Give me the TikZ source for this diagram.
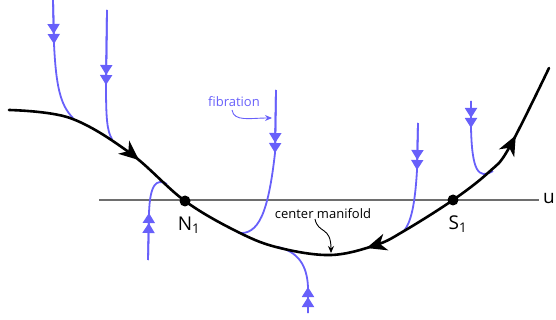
\documentclass[tikz,border=0pt]{standalone}
\usepackage{fontspec}
\setmainfont{Open Sans}
\usetikzlibrary{arrows.meta,decorations.markings}
\definecolor{fibblue}{RGB}{104,96,250}
\definecolor{axisgray}{RGB}{110,110,110}
\tikzset{
  manifold/.style={line width=2.6pt,black,line cap=round},
  fiber/.style={line width=1.8pt,fibblue},
  fibtip/.style={-{Triangle[width=12pt,length=10pt]Triangle[width=12pt,length=10pt]}},
  fixpt/.style={circle,fill=black,inner sep=0pt,minimum size=11pt},
  ptlabel/.style={font=\fontsize{19}{20}\selectfont,inner sep=0pt},
  note/.style={font=\fontsize{13}{14}\selectfont,inner sep=0pt},
  flowtip/.tip={Stealth[length=20pt,width=17pt,inset=6pt]}
}
\begin{document}
\begin{tikzpicture}[x=1pt,y=-1pt]
\useasboundingbox (0,0) rectangle (556,320);
% u axis
\coordinate (axl) at (99,200);
\coordinate (axr) at (539,200);
\draw[axisgray,line width=1.8pt] (axl) -- (axr);
\node[ptlabel,anchor=west] (ulab) at (543,199) {u};
% fibers (drawn below the manifold)
\draw[fiber] (53,0) -- (54,44) .. controls (56,85) and (60,105) .. (73,118);
\draw[fiber,fibtip] (53,0) -- (54,44);
\draw[fiber] (107,10) -- (106,85) .. controls (106,118) and (107,131) .. (112,139);
\draw[fiber,fibtip] (107,10) -- (106,85);
\draw[fiber] (276,90) -- (275,153) .. controls (268,215) and (258,235) .. (238,233);
\draw[fiber,fibtip] (276,90) -- (275,153);
\draw[fiber] (148,260) -- (149,213) .. controls (150,185) and (156,178) .. (167,184);
\draw[fiber,fibtip] (148,260) -- (149,213);
\draw[fiber] (308,313) -- (308,287) .. controls (307,265) and (298,252) .. (278,247);
\draw[fiber,fibtip] (308,313) -- (308,287);
\draw[fiber] (418,123) -- (417,170) .. controls (415,205) and (411,222) .. (404,231);
\draw[fiber,fibtip] (418,123) -- (417,170);
\draw[fiber] (471,101) -- (471,128) .. controls (472,170) and (478,180) .. (493,171);
\draw[fiber,fibtip] (471,101) -- (471,128);
% center manifold
\draw[manifold,postaction={decorate},decoration={markings,
    mark=at position 0.215 with {\arrow{flowtip}},
    mark=at position 0.600 with {\arrowreversed{flowtip}},
    mark=at position 0.887 with {\arrow{flowtip}}}]
  plot[smooth,tension=0.6] coordinates {(9,110) (70,118) (130,153) (185,201)
    (240,233) (280,248) (331,255) (376,245) (404,231) (453,200) (489,172)
    (509,148) (549,68)};
% fixed points
\node[fixpt] (N1) at (185,201) {};
\node[fixpt] (S1) at (453,200) {};
\node[ptlabel] (N1lab) at (189,225) {N\textsubscript{1}};
\node[ptlabel] (S1lab) at (458,224) {S\textsubscript{1}};
% labels
\node[note,text=fibblue] (fiblab) at (234,102) {fibration};
\coordinate (fibend) at (272,118);
\draw[fibblue,line width=0.9pt,-{Stealth[length=7pt,width=6pt]}]
  (232,110) .. controls (234,122) and (250,118) .. (fibend);
\node[note] (cmlab) at (323,214) {center manifold};
\coordinate (cmend) at (331,253);
\draw[black,line width=0.9pt,-{Stealth[length=7pt,width=6pt]}]
  (315,219) .. controls (318,234) and (331,226) .. (cmend);
\end{tikzpicture}
\end{document}
